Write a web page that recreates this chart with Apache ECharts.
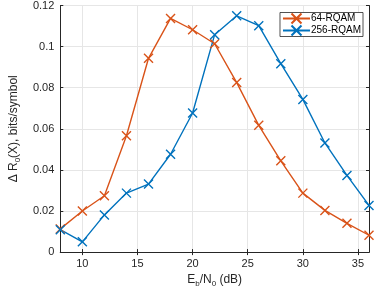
<!DOCTYPE html>
<html><head><meta charset="utf-8">
<script src="https://cdn.jsdelivr.net/npm/echarts@6/dist/echarts.min.js"></script>
<style>html,body{margin:0;padding:0;background:#fff}#c{width:374px;height:293px}</style>
</head><body><div id="c"></div>
<script>
const ebn0 = [8,10,12,14,16,18,20,22,24,26,28,30,32,34,36];
const rqam64 = [0.0113,0.0200,0.0274,0.0566,0.0943,0.1137,0.1082,0.1014,0.0825,0.0617,0.0444,0.0287,0.0203,0.0140,0.0082];
const rqam256 = [0.0109,0.0050,0.0181,0.0287,0.0331,0.0476,0.0677,0.1058,0.1150,0.1102,0.0917,0.0743,0.0531,0.0373,0.0227];
const xTicks = [10,15,20,25,30,35];
const seriesNames = ['64-RQAM','256-RQAM'];

const xPath = 'path://M0,0L10,10M10,0L0,10';
const legPath = 'path://M0,5L27,5M8.5,0L18.5,10M18.5,0L8.5,10';
const font = 'Helvetica, Arial, "Liberation Sans", sans-serif';
const axisCol = '#262626';
const chart = echarts.init(document.getElementById('c'));
function mk(name, vals, color){
  return {name, type:'line', data: ebn0.map((x,i)=>[x,vals[i]]),
    symbol:xPath, symbolSize:9, showAllSymbol:true,
    lineStyle:{color, width:1.4},
    itemStyle:{color:'rgba(0,0,0,0)', borderColor:color, borderWidth:1.4},
    color, animation:false};
}
chart.setOption({
  animation:false,
  textStyle:{fontFamily:font},
  grid:{left:47,right:5,top:5,bottom:34,containLabel:false},
  legend:{show:true, right:11, top:12.5, orient:'vertical', itemGap:0, itemWidth:27, itemHeight:10,
    backgroundColor:'#fff', borderColor:'#262626', borderWidth:0.8, padding:[0,2,0,2],
    textStyle:{fontSize:10, color:'#000', fontFamily:font, padding:[0,0,0,-4]},
    data:seriesNames.map(n=>({name:n, icon:legPath}))},
  xAxis:[{type:'value', min:8, max:36,
    name:'{n|E}{s|b}{n|/N}{s|0}{n| (dB)}', nameLocation:'middle', nameGap:16,
    nameTextStyle:{rich:{n:{fontSize:12,color:axisCol,fontFamily:font},s:{fontSize:8,color:axisCol,fontFamily:font,padding:[8,0,0,0]}}},
    axisLine:{lineStyle:{color:axisCol,width:1}},
    axisTick:{inside:true,length:3,customValues:xTicks,lineStyle:{color:axisCol}},
    axisLabel:{customValues:xTicks,fontSize:11,color:axisCol,margin:6},
    splitLine:{show:true,lineStyle:{color:'#e6e6e6',width:1}}},
   {type:'value', min:8, max:36, position:'top',
    axisLine:{show:true,lineStyle:{color:axisCol,width:1}},
    axisTick:{show:true,inside:true,length:3,customValues:xTicks,lineStyle:{color:axisCol}},
    axisLabel:{show:false}, splitLine:{show:false}}],
  yAxis:[{type:'value', min:0, max:0.12, interval:0.02,
    name:'{n|Δ R}{s|0}{n|(X), bits/symbol}', nameLocation:'middle', nameGap:34,
    nameTextStyle:{rich:{n:{fontSize:12,color:axisCol,fontFamily:font},s:{fontSize:8,color:axisCol,fontFamily:font,padding:[8,0,0,0]}}},
    axisLine:{show:true,lineStyle:{color:axisCol,width:1}},
    axisTick:{show:true,inside:true,length:3,lineStyle:{color:axisCol}},
    axisLabel:{fontSize:11,color:axisCol,margin:6,formatter:v=>String(+v.toFixed(2))},
    splitLine:{show:true,lineStyle:{color:'#e6e6e6',width:1}}},
   {type:'value', min:0, max:0.12, interval:0.02, position:'right',
    axisLine:{show:true,lineStyle:{color:axisCol,width:1}},
    axisTick:{show:true,inside:true,length:3,lineStyle:{color:axisCol}},
    axisLabel:{show:false}, splitLine:{show:false}}],
  series:[mk(seriesNames[0],rqam64,'#D95319'), mk(seriesNames[1],rqam256,'#0072BD')]
});
</script></body></html>
